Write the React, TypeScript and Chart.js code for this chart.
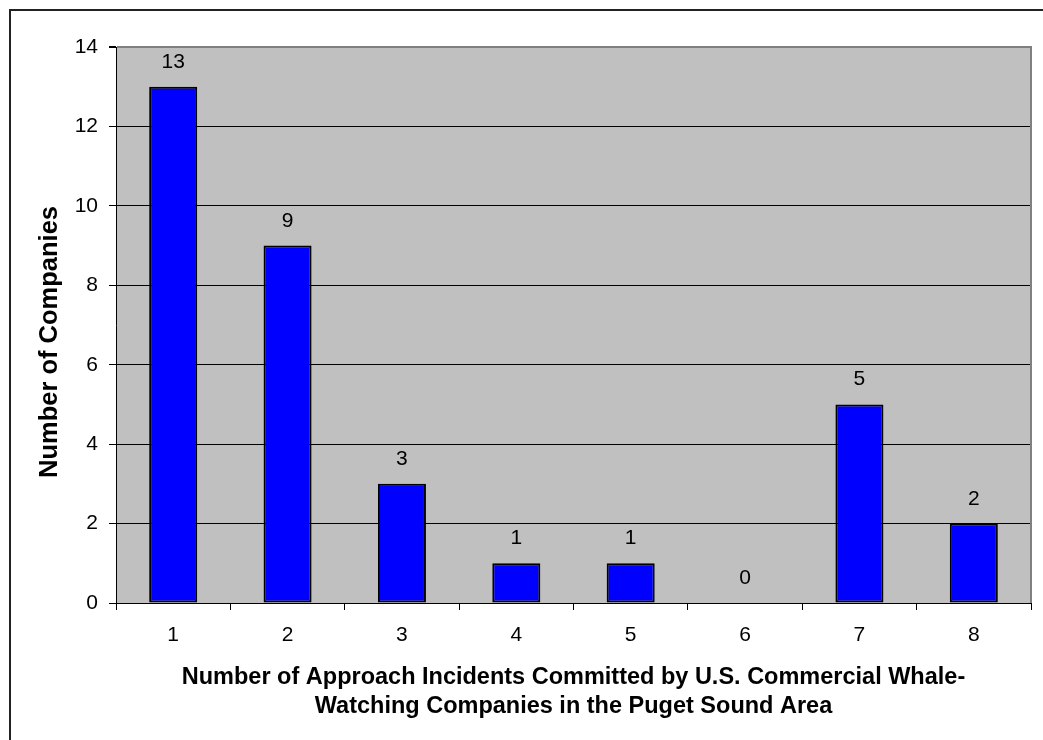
import { useEffect, useRef } from 'react';
import { Chart, registerables } from 'chart.js';

Chart.register(...registerables);

const categories = ['1', '2', '3', '4', '5', '6', '7', '8'];
const companies = [13, 9, 3, 1, 1, 0, 5, 2];
const yTicks = [0, 2, 4, 6, 8, 10, 12, 14];
const xTitle = [
  'Number of Approach Incidents Committed by U.S. Commercial Whale-',
  'Watching Companies in the Puget Sound Area',
];
const yTitle = 'Number of Companies';

const FONT = "'Liberation Sans', Arial, Helvetica, sans-serif";

const backgroundPlugin = {
  id: 'bg',
  beforeDraw(chart: any) {
    const { ctx, chartArea } = chart;
    ctx.save();
    ctx.fillStyle = '#ffffff';
    ctx.fillRect(0, 0, chart.width, chart.height);
    ctx.fillStyle = '#C0C0C0';
    ctx.fillRect(chartArea.left, chartArea.top, chartArea.right - chartArea.left, chartArea.bottom - chartArea.top);
    ctx.restore();
  },
};

const decorPlugin = {
  id: 'decor',
  afterDatasetsDraw(chart: any) {
    const { ctx } = chart;
    const meta = chart.getDatasetMeta(0);
    ctx.save();
    ctx.fillStyle = '#000';
    ctx.font = `21px ${FONT}`;
    ctx.textAlign = 'center';
    ctx.textBaseline = 'alphabetic';
    meta.data.forEach((bar: any, i: number) => {
      ctx.fillText(String(companies[i]), bar.x, bar.y - 19);
    });
    ctx.restore();
  },
  afterDraw(chart: any) {
    const { ctx, chartArea } = chart;
    ctx.save();
    // right plot border (gray)
    ctx.fillStyle = '#808080';
    ctx.fillRect(chartArea.right - 1, chartArea.top - 1, 2, chartArea.bottom - chartArea.top + 1);
    // outer frame
    ctx.fillStyle = '#222';
    ctx.fillRect(9, 9, chart.width - 9, 2);
    ctx.fillRect(9, 9, 2, chart.height - 9);
    // y title
    ctx.translate(57, 342);
    ctx.rotate(-Math.PI / 2);
    ctx.font = `bold 25.5px ${FONT}`;
    ctx.textAlign = 'center';
    ctx.textBaseline = 'alphabetic';
    ctx.fillStyle = '#000';
    ctx.fillText(yTitle, 0, 0);
    ctx.restore();
  },
};

export default function App() {
  const canvasRef = useRef<HTMLCanvasElement | null>(null);

  useEffect(() => {
    const canvas = canvasRef.current;
    if (!canvas) return;
    const chart = new Chart(canvas, {
      type: 'bar',
      data: {
        labels: categories,
        datasets: [
          {
            data: companies,
            backgroundColor: '#0000FF',
            borderColor: '#000000',
            borderWidth: (c: any) => (companies[c.dataIndex] === 0 ? 0 : 2),
            borderSkipped: false,
            barPercentage: 0.42,
            categoryPercentage: 1,
          },
        ],
      },
      options: {
        animation: false,
        responsive: false,
        devicePixelRatio: 1,
        layout: { padding: { left: 0, right: 12, top: 47, bottom: 0 } },
        plugins: {
          legend: { display: false },
          tooltip: { enabled: false },
        },
        scales: {
          x: {
            afterFit(scale: any) {
              scale.height = 137;
            },
            grid: {
              offset: true,
              drawOnChartArea: false,
              drawTicks: true,
              tickLength: 7,
              color: '#000',
              lineWidth: 1,
            },
            border: { display: true, color: '#000', width: 1 },
            ticks: {
              color: '#000',
              font: { family: FONT, size: 21 },
              padding: 13,
              maxRotation: 0,
            },
            title: {
              display: true,
              text: xTitle,
              color: '#000',
              font: { family: FONT, size: 23.5, weight: 'bold', lineHeight: '29px' },
              padding: { top: 0, bottom: 19 },
            },
          },
          y: {
            min: 0,
            max: 14,
            afterFit(scale: any) {
              scale.width = 116;
            },
            afterBuildTicks(scale: any) {
              scale.ticks = yTicks.map((v) => ({ value: v }));
            },
            grid: {
              drawTicks: true,
              tickLength: 7,
              color: (c: any) => (c.tick && c.tick.value === 14 ? '#808080' : '#000'),
              lineWidth: (c: any) => (c.tick && c.tick.value === 14 ? 2 : 1),
              tickColor: '#000',
            },
            border: { display: true, color: '#000', width: 1 },
            ticks: {
              color: '#000',
              font: { family: FONT, size: 21 },
              padding: 11,
              stepSize: 2,
            },
          },
        },
      },
      plugins: [backgroundPlugin, decorPlugin],
    } as any);
    return () => chart.destroy();
  }, []);

  return (
    <div style={{ position: 'absolute', left: 0, top: 0, width: 1043, height: 740, background: '#fff' }}>
      <canvas ref={canvasRef} width={1043} height={740} style={{ display: 'block', width: 1043, height: 740 }} />
    </div>
  );
}
